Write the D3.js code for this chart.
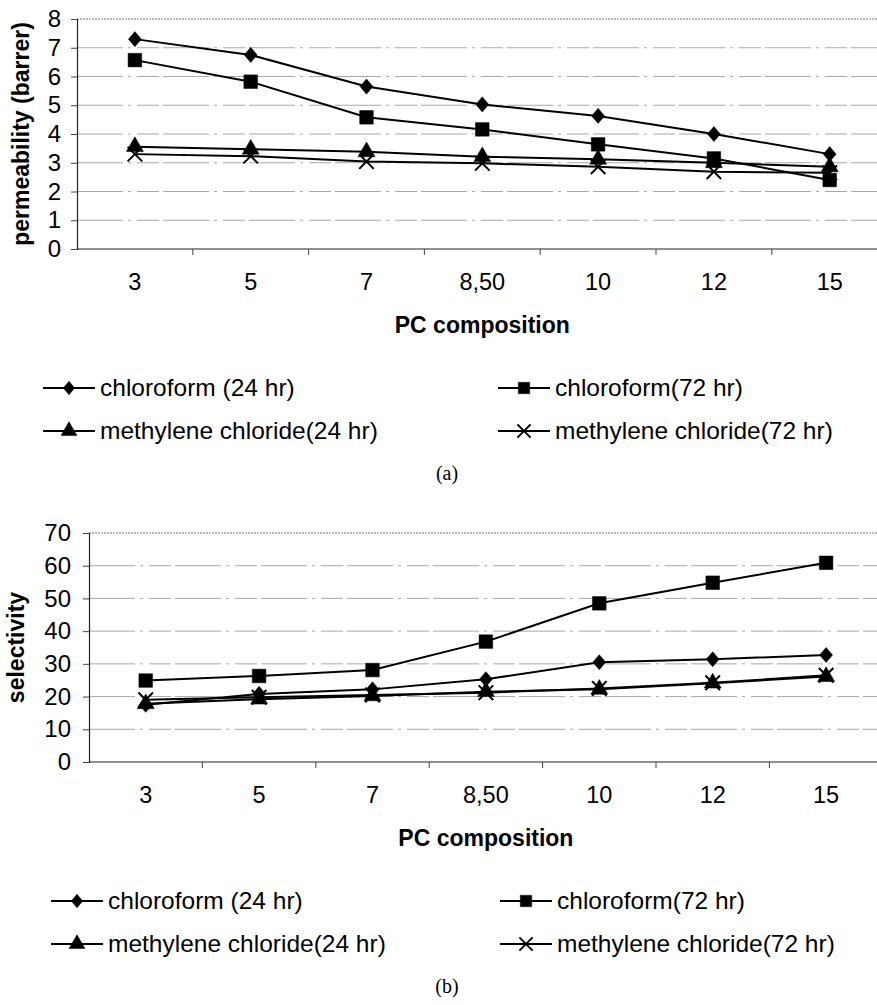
<!DOCTYPE html>
<html>
<head>
<meta charset="utf-8">
<script src="https://cdn.jsdelivr.net/npm/d3@7"></script>
<style>
  body { margin: 0; background: #fff; }
  svg { display: block; }
  text { font-family: "Liberation Sans", Arial, sans-serif; fill: #000; }
</style>
</head>
<body>
<div id="fig"></div>
<script>
// categories (PC composition)
var categories = ["3", "5", "7", "8,50", "10", "12", "15"]

var seriesNames = ["chloroform (24 hr)", "chloroform(72 hr)", "methylene chloride(24 hr)", "methylene chloride(72 hr)"]

// (a) permeability (barrer)
var permChloro24 = [7.3, 6.75, 5.65, 5.03, 4.63, 4.0, 3.3]
var permChloro72 = [6.57, 5.82, 4.58, 4.16, 3.64, 3.15, 2.4]
var permMethyl24 = [3.56, 3.47, 3.38, 3.21, 3.12, 3.0, 2.86]
var permMethyl72 = [3.3, 3.23, 3.04, 2.98, 2.86, 2.69, 2.65]
var permTicks = [0, 1, 2, 3, 4, 5, 6, 7, 8]

// (b) selectivity
var selChloro24 = [17.5, 20.8, 22.2, 25.3, 30.5, 31.4, 32.7]
var selChloro72 = [24.9, 26.3, 28.1, 36.8, 48.5, 54.8, 60.9]
var selMethyl24 = [17.8, 19.2, 20.2, 21.5, 22.2, 24.1, 26.1]
var selMethyl72 = [19.0, 19.8, 20.5, 21.2, 22.5, 24.2, 26.5]
var selTicks = [0, 10, 20, 30, 40, 50, 60, 70]

var W = 877, H = 1005

var svg = d3.select("#fig").append("svg")
    .attr("width", W)
    .attr("height", H)
    .attr("viewBox", `0 0 ${W} ${H}`)

svg.append("rect").attr("width", W).attr("height", H).attr("fill", "#fff")

// custom diamond, a bit wider than d3's own
var diamondType = {
    draw: function(ctx, size) {
        var h = Math.sqrt(size) * 0.55, w = h * 0.85
        ctx.moveTo(0, -h); ctx.lineTo(w, 0); ctx.lineTo(0, h); ctx.lineTo(-w, 0); ctx.closePath()
    }
}
var timesType = d3.symbolTimes || d3.symbolX || {
    draw: function(ctx, size) {
        var r = Math.sqrt(size) * 0.5
        ctx.moveTo(-r, -r); ctx.lineTo(r, r); ctx.moveTo(r, -r); ctx.lineTo(-r, r)
    }
}

// marker style per series
var markers = [
    { type: diamondType, size: 190, lsize: 150, fill: true },
    { type: d3.symbolSquare, size: 185, lsize: 130, fill: true },
    { type: d3.symbolTriangle, size: 125, lsize: 110, fill: true },
    { type: timesType, size: 140, lsize: 115, fill: false }
]

function drawMarker(g, m, x, y, big) {
    g.append("path")
        .attr("transform", `translate(${x},${y})`)
        .attr("d", d3.symbol().type(m.type).size(big ? m.size : m.lsize)())
        .attr("fill", m.fill ? "#000" : "none")
        .attr("stroke", "#000")
        .attr("stroke-width", m.fill ? 0.5 : 2)
}

function drawChart(cfg) {

    var g = svg.append("g")

    var x = d3.scaleBand()
        .domain(categories)
        .range([cfg.left, cfg.left + cfg.band * categories.length])
        .padding(0)

    var y = d3.scaleLinear()
        .domain([0, cfg.ticks[cfg.ticks.length - 1]])
        .range([cfg.bottom, cfg.top])

    var right = cfg.left + cfg.band * categories.length

    // gridlines
    g.append("g").selectAll("line")
        .data(cfg.ticks.slice(1, -1))
        .enter().append("line")
        .attr("x1", cfg.left).attr("x2", right)
        .attr("y1", d => y(d)).attr("y2", d => y(d))
        .attr("stroke", "#a8a8a8")
        .attr("stroke-width", 1)
        .attr("stroke-dasharray", "46,5,3,6,22,4")

    // top border
    g.append("line")
        .attr("x1", cfg.left).attr("x2", right)
        .attr("y1", cfg.top).attr("y2", cfg.top)
        .attr("stroke", "#777").attr("stroke-width", 1.2)
        .attr("stroke-dasharray", "2,1")

    // y axis
    var yAxis = g.append("g")
        .attr("transform", `translate(${cfg.left},0)`)
        .call(d3.axisLeft(y).tickValues(cfg.ticks).tickSize(6).tickPadding(cfg.yPad))
    yAxis.select(".domain").attr("stroke", "#222").attr("stroke-width", 1.2)
    yAxis.selectAll(".tick line").attr("stroke", "#444")
    yAxis.selectAll(".tick text")
        .style("font-size", "24px")
        .style("font-family", '"Liberation Sans", Arial, sans-serif')
        .attr("fill", "#000")

    // x axis: labels at band centres, ticks at band edges
    var xAxis = g.append("g")
        .attr("transform", `translate(0,${cfg.bottom})`)
        .call(d3.axisBottom(x).tickSize(0).tickPadding(24))
    xAxis.select(".domain").remove()
    xAxis.selectAll(".tick text")
        .style("font-size", "23.5px")
        .style("font-family", '"Liberation Sans", Arial, sans-serif')
        .attr("fill", "#000")

    g.append("line")
        .attr("x1", cfg.left).attr("x2", right)
        .attr("y1", cfg.bottom).attr("y2", cfg.bottom)
        .attr("stroke", "#222").attr("stroke-width", 1.2)

    g.append("g").selectAll("line")
        .data(categories.slice(1))
        .enter().append("line")
        .attr("x1", d => x(d)).attr("x2", d => x(d))
        .attr("y1", cfg.bottom).attr("y2", cfg.bottom + 6)
        .attr("stroke", "#444")

    // axis titles
    g.append("text")
        .attr("transform", `translate(${cfg.yTitleX},${(cfg.top + cfg.bottom) / 2}) rotate(-90)`)
        .attr("text-anchor", "middle")
        .style("font-size", "23px")
        .style("font-weight", "bold")
        .text(cfg.yTitle)

    g.append("text")
        .attr("x", (cfg.left + right) / 2)
        .attr("y", cfg.bottom + 84)
        .attr("text-anchor", "middle")
        .style("font-size", "23px")
        .style("font-weight", "bold")
        .text("PC composition")

    // series
    var line = d3.line()
        .x((d, i) => x(categories[i]) + x.bandwidth() / 2)
        .y(d => y(d))

    cfg.series.forEach(function(vals, si) {
        g.append("path")
            .datum(vals)
            .attr("d", line)
            .attr("fill", "none")
            .attr("stroke", "#000")
            .attr("stroke-width", 2)
        vals.forEach(function(v, i) {
            drawMarker(g, markers[si], x(categories[i]) + x.bandwidth() / 2, y(v), true)
        })
    })

    // legend
    var rows = [cfg.bottom + 139, cfg.bottom + 182]
    var cols = cfg.legendCols
    seriesNames.forEach(function(name, si) {
        var cx = cols[si % 2], cy = rows[Math.floor(si / 2)]
        g.append("line")
            .attr("x1", cx).attr("x2", cx + 52)
            .attr("y1", cy).attr("y2", cy)
            .attr("stroke", "#000").attr("stroke-width", 2)
        drawMarker(g, markers[si], cx + 26, cy, false)
        g.append("text")
            .attr("x", cx + 57)
            .attr("y", cy + 8)
            .style("font-size", "24.5px")
            .text(name)
    })

    // panel label
    g.append("text")
        .attr("x", 447)
        .attr("y", cfg.bottom + 231)
        .attr("text-anchor", "middle")
        .style("font-family", '"Liberation Serif", "Times New Roman", serif')
        .style("font-size", "20px")
        .text(cfg.panel)
}

drawChart({
    left: 77, band: 115.8, top: 19, bottom: 249,
    ticks: permTicks, yPad: 10, yTitleX: 29,
    yTitle: "permeability (barrer)",
    series: [permChloro24, permChloro72, permMethyl24, permMethyl72],
    legendCols: [43, 498],
    panel: "(a)"
})

drawChart({
    left: 89, band: 113.4, top: 533, bottom: 762,
    ticks: selTicks, yPad: 12, yTitleX: 24,
    yTitle: "selectivity",
    series: [selChloro24, selChloro72, selMethyl24, selMethyl72],
    legendCols: [51, 500],
    panel: "(b)"
})
</script>
</body>
</html>
